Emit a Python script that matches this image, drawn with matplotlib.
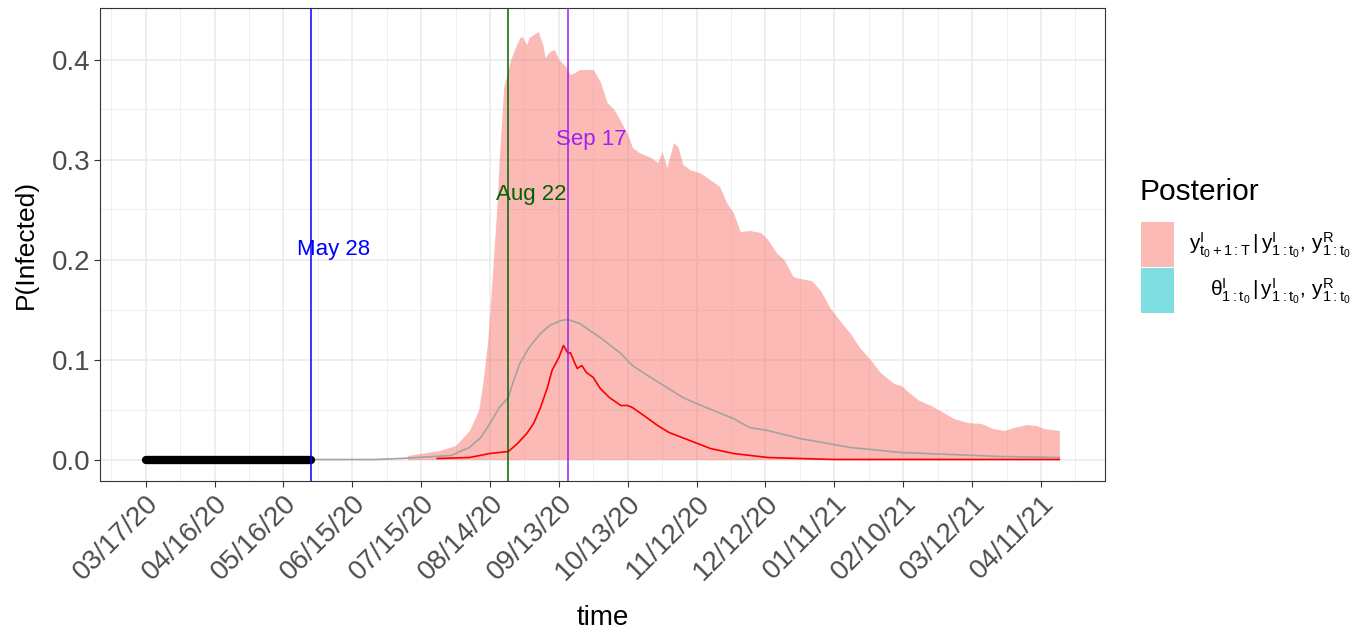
import matplotlib
matplotlib.use('Agg')
import matplotlib.pyplot as plt
import numpy as np
import pandas as pd
from matplotlib.patches import Rectangle

plt.rcParams['font.family'] = ['Liberation Sans', 'DejaVu Sans']
plt.rcParams['mathtext.fontset'] = 'custom'
plt.rcParams['mathtext.rm'] = 'Liberation Sans'
plt.rcParams['mathtext.it'] = 'Liberation Sans'
plt.rcParams['mathtext.bf'] = 'Liberation Sans:bold'

# days counted from 03/17/20
start = pd.Timestamp('2020-03-17')
last_day = 398

# observed part (thick black)
obs_day = [0, 72]
obs_val = [0.0, 0.0]

# upper edge of the predictive ribbon
pink_day = [114, 128, 135, 141, 145, 147, 149, 150, 153, 154, 156, 159, 161, 163, 164, 166,
            167, 169, 171, 173, 174, 176, 178, 180, 183, 185, 187, 189, 192, 195, 198, 201,
            204, 207, 210, 212, 215, 220, 223, 225, 227, 230, 232, 234, 237, 242, 247, 250,
            253, 256, 259, 263, 268, 271, 275, 278, 282, 285, 290, 294, 298, 303, 307, 311,
            316, 320, 326, 329, 333, 337, 342, 346, 352, 358, 364, 369, 374, 378, 384, 388,
            391, 394, 398]
pink_hi = [0.004, 0.009, 0.014, 0.029, 0.049, 0.079, 0.119, 0.149, 0.253, 0.300, 0.373, 0.400,
           0.412, 0.422, 0.423, 0.415, 0.422, 0.425, 0.428, 0.415, 0.402, 0.408, 0.410, 0.400,
           0.393, 0.385, 0.387, 0.390, 0.390, 0.390, 0.378, 0.357, 0.350, 0.338, 0.325, 0.312,
           0.307, 0.302, 0.297, 0.308, 0.292, 0.317, 0.312, 0.295, 0.290, 0.286, 0.278, 0.273,
           0.257, 0.247, 0.228, 0.229, 0.227, 0.220, 0.206, 0.200, 0.183, 0.181, 0.179, 0.169,
           0.152, 0.137, 0.126, 0.112, 0.099, 0.087, 0.076, 0.074, 0.066, 0.059, 0.054, 0.049,
           0.041, 0.037, 0.036, 0.031, 0.029, 0.032, 0.035, 0.034, 0.031, 0.030, 0.029]

# posterior mean (grey)
gray_day = [72, 100, 111, 133, 141, 146, 150, 154, 158, 160, 163, 167, 172, 176, 181, 184,
            189, 198, 207, 212, 220, 227, 234, 242, 256, 263, 271, 285, 307, 329, 351, 372, 398]
gray_val = [0.0, 0.0, 0.001, 0.004, 0.012, 0.022, 0.036, 0.052, 0.062, 0.077, 0.096, 0.112,
            0.126, 0.134, 0.139, 0.140, 0.136, 0.122, 0.106, 0.094, 0.082, 0.072, 0.062, 0.054,
            0.041, 0.032, 0.029, 0.021, 0.012, 0.007, 0.005, 0.003, 0.002]

# median (red)
red_day = [127, 141, 150, 158, 162, 166, 169, 172, 175, 177, 180, 182, 184, 185, 187, 188,
           190, 192, 195, 198, 202, 207, 210, 212, 217, 223, 228, 237, 246, 256, 271, 285,
           300, 398]
red_val = [0.001, 0.002, 0.006, 0.008, 0.016, 0.026, 0.036, 0.052, 0.072, 0.089, 0.102, 0.114,
           0.106, 0.107, 0.096, 0.091, 0.094, 0.087, 0.082, 0.071, 0.062, 0.054, 0.054, 0.052,
           0.044, 0.034, 0.027, 0.019, 0.011, 0.006, 0.002, 0.001, 0.0, 0.0]

event_day = [72, 158, 184]
event_lab = ['May 28', 'Aug 22', 'Sep 17']
event_col = ['blue', '#006400', '#A020F0']
event_y = [0.21, 0.265, 0.32]

fig = plt.figure(figsize=(13.62, 6.35), dpi=100)
ax = fig.add_axes([100/1362, 1-481/635, 1005/1362, 473/635])

ax.fill_between(pink_day, 0, pink_hi, color='#F8766D', alpha=0.5, lw=0, zorder=2)
ax.plot(gray_day, gray_val, color='#A3A3A3', lw=1.2, zorder=3)
ax.plot(red_day, red_val, color='red', lw=1.2, zorder=4)
ax.plot(obs_day, obs_val, color='black', lw=6, solid_capstyle='round', zorder=5)

for d, lab, c, yy in zip(event_day, event_lab, event_col, event_y):
    ax.axvline(d, color=c, lw=1.1, zorder=6)
    ax.text(d + 10, yy, lab, color=c, fontsize=16, ha='center', va='center', zorder=7)

# axes / theme_bw look
major = np.arange(0, 391, 30)
ax.set_xticks(major)
ax.set_xticklabels([(start + pd.Timedelta(days=int(d))).strftime('%m/%d/%y') for d in major],
                   rotation=45, ha='right', rotation_mode='anchor')
ax.set_xticks(np.arange(-15, 420, 30), minor=True)
ax.set_yticks([0, 0.1, 0.2, 0.3, 0.4])
ax.set_yticklabels(['0.0', '0.1', '0.2', '0.3', '0.4'])
ax.set_yticks(np.arange(0.05, 0.45, 0.1), minor=True)
ax.set_xlim(-19.9, 417.9)
ax.set_ylim(-0.0215, 0.4515)

ax.grid(which='major', color='#EBEBEB', lw=1.2, zorder=0)
ax.grid(which='minor', color='#EBEBEB', lw=0.6, zorder=0)
ax.set_axisbelow(True)
ax.tick_params(which='major', length=4, width=0.8, color='#333333', labelsize=20,
               labelcolor='#4D4D4D', pad=3)
ax.tick_params(which='minor', length=0)
for s in ax.spines.values():
    s.set_color('#333333')
    s.set_linewidth(0.8)

ax.set_xlabel('time', fontsize=20, labelpad=14)
ax.set_ylabel('P(Infected)', fontsize=19, labelpad=10)

# legend drawn by hand to keep the right-aligned labels
W, H = 1362, 635
fig.text(1140/W, 1-192/H, 'Posterior', fontsize=21.5, ha='left', va='center')
key_col = ['#F8766D', '#00BFC4']
key_top = [222, 268]
key_lab = [r'$\mathregular{y^{I}_{t_0+1{:}T}\,|\,y^{I}_{1{:}t_0},\,y^{R}_{1{:}t_0}}$',
           r'$\mathregular{\theta^{I}_{1{:}t_0}\,|\,y^{I}_{1{:}t_0},\,y^{R}_{1{:}t_0}}$']
for c, top, lab in zip(key_col, key_top, key_lab):
    fig.add_artist(Rectangle((1141/W, 1-(top+45)/H), 33/W, 45/H, transform=fig.transFigure,
                             facecolor=c, alpha=0.5, edgecolor='none'))
    fig.text(1351/W, 1-(top+23)/H, lab, fontsize=15, ha='right', va='center')

fig.savefig('out.png', dpi=100)
